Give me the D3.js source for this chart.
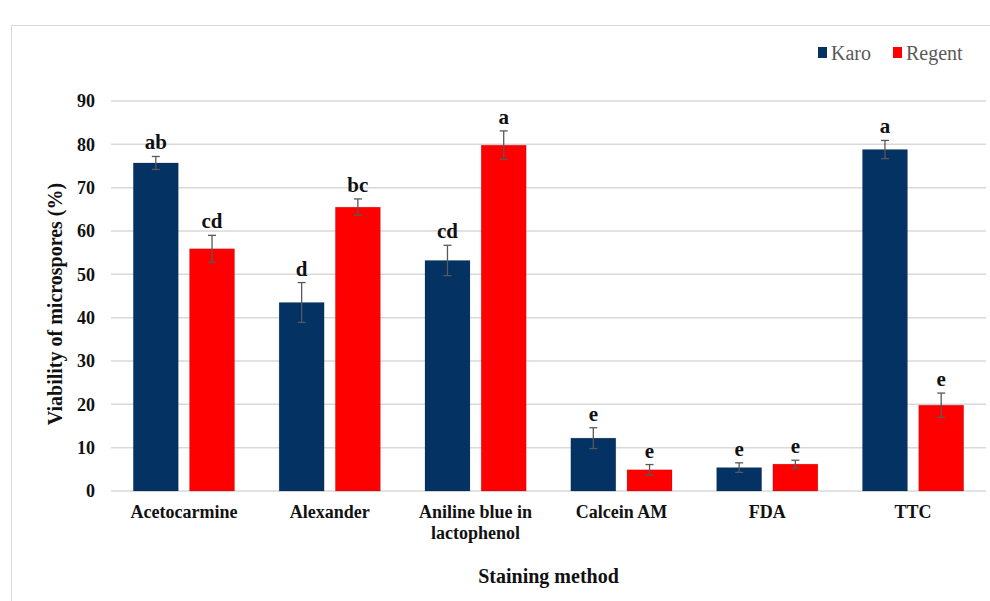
<!DOCTYPE html>
<html>
<head>
<meta charset="utf-8">
<script src="https://cdn.jsdelivr.net/npm/d3@7"></script>
<style>
  body { margin: 0; background: #fff; }
  text { font-family: "Liberation Serif", "Times New Roman", serif; }
</style>
</head>
<body>
<div id="chart"></div>
<script>
// data
var methods = ["Acetocarmine", "Alexander", "Aniline blue in lactophenol", "Calcein AM", "FDA", "TTC"];
var series = ["Karo", "Regent"];
var karoValues = [75.7, 43.5, 53.2, 12.2, 5.4, 78.8];
var regentValues = [55.9, 65.5, 79.8, 4.9, 6.2, 19.8];
var karoErrors = [1.5, 4.6, 3.5, 2.4, 1.1, 2.1];
var regentErrors = [3.1, 1.9, 3.3, 1.2, 0.9, 2.8];
var karoLetters = ["ab", "d", "cd", "e", "e", "a"];
var regentLetters = ["cd", "bc", "a", "e", "e", "e"];
var yTicks = [0, 10, 20, 30, 40, 50, 60, 70, 80, 90];

var colors = { Karo: "#033263", Regent: "#ff0000" };

var svgWidth = 990;
var svgHeight = 601;

var margin = { top: 101, right: 4, bottom: 110, left: 111 };
var width = svgWidth - margin.left - margin.right;
var height = svgHeight - margin.top - margin.bottom;

var svg = d3.select("#chart")
    .append("svg")
    .attr("width", svgWidth)
    .attr("height", svgHeight);

// outer frame of the chart area
svg.append("rect")
    .attr("x", 11.5)
    .attr("y", 25.5)
    .attr("width", 990)
    .attr("height", 600)
    .attr("fill", "none")
    .attr("stroke", "#d9d9d9")
    .attr("stroke-width", 1);

var chartGroup = svg.append("g")
    .attr("transform", `translate(${margin.left}, ${margin.top})`);

// build rows for the bars
var rows = [];
methods.forEach(function(m, i) {
    rows.push({ method: m, series: "Karo", value: karoValues[i], err: karoErrors[i], letter: karoLetters[i] });
    rows.push({ method: m, series: "Regent", value: regentValues[i], err: regentErrors[i], letter: regentLetters[i] });
});

var x0 = d3.scaleBand()
    .domain(methods)
    .range([0, width])
    .paddingInner(0.306)
    .paddingOuter(0.153);

var x1 = d3.scaleBand()
    .domain(series)
    .range([0, x0.bandwidth()])
    .paddingInner(0.2);

var y = d3.scaleLinear()
    .domain([0, 90])
    .range([height, 0]);

// gridlines
chartGroup.append("g")
    .selectAll("line")
    .data(yTicks)
    .enter()
    .append("line")
    .attr("x1", 0)
    .attr("x2", width)
    .attr("y1", d => y(d))
    .attr("y2", d => y(d))
    .attr("stroke", "#d9d9d9")
    .attr("stroke-width", 1.5);

// y tick labels
var leftAxis = d3.axisLeft(y).tickValues(yTicks).tickSize(0).tickPadding(16);
var yAxis = chartGroup.append("g").call(leftAxis);
yAxis.select(".domain").remove();
yAxis.selectAll("text")
    .attr("font-family", "Liberation Serif, serif")
    .attr("font-size", 18)
    .attr("font-weight", "bold")
    .attr("fill", "#111");

// bars
var barGroup = chartGroup.append("g");
barGroup.selectAll("rect")
    .data(rows)
    .enter()
    .append("rect")
    .attr("x", d => x0(d.method) + x1(d.series))
    .attr("y", d => y(d.value))
    .attr("width", x1.bandwidth())
    .attr("height", d => height - y(d.value))
    .attr("fill", d => colors[d.series])
    .attr("stroke", "rgba(0,0,0,0.15)")
    .attr("stroke-width", 0.8);

// error bars
var errGroup = chartGroup.append("g")
    .attr("stroke", "#595959")
    .attr("stroke-width", 1.3);

rows.forEach(function(d) {
    var cx = x0(d.method) + x1(d.series) + x1.bandwidth() / 2;
    var top = y(d.value + d.err);
    var bot = y(d.value - d.err);
    errGroup.append("line").attr("x1", cx).attr("x2", cx).attr("y1", top).attr("y2", bot);
    errGroup.append("line").attr("x1", cx - 4).attr("x2", cx + 4).attr("y1", top).attr("y2", top);
    errGroup.append("line").attr("x1", cx - 4).attr("x2", cx + 4).attr("y1", bot).attr("y2", bot);
});

// significance letters
chartGroup.append("g")
    .selectAll("text")
    .data(rows)
    .enter()
    .append("text")
    .attr("x", d => x0(d.method) + x1(d.series) + x1.bandwidth() / 2)
    .attr("y", d => y(d.value + d.err) - 7)
    .attr("text-anchor", "middle")
    .attr("font-size", 21)
    .attr("font-weight", "bold")
    .attr("fill", "#111")
    .text(d => d.letter);

// category labels
var bottomAxis = d3.axisBottom(x0).tickSize(0).tickPadding(14);
var xAxis = chartGroup.append("g")
    .attr("transform", `translate(0, ${height})`)
    .call(bottomAxis);
xAxis.select(".domain").remove();
xAxis.selectAll("text")
    .attr("font-family", "Liberation Serif, serif")
    .attr("font-size", 18)
    .attr("font-weight", "bold")
    .attr("fill", "#111")
    .each(function(d) {
        var t = d3.select(this);
        if (d === "Aniline blue in lactophenol") {
            t.text(null);
            t.append("tspan").attr("x", 0).attr("dy", "0.71em").text("Aniline blue in");
            t.append("tspan").attr("x", 0).attr("dy", "1.2em").text("lactophenol");
            t.attr("dy", null);
        }
    });

// axis titles
chartGroup.append("text")
    .attr("transform", `translate(${-49}, ${height / 2 + 8}) rotate(-90)`)
    .attr("text-anchor", "middle")
    .attr("font-size", 20)
    .attr("font-weight", "bold")
    .attr("fill", "#111")
    .text("Viability of microspores (%)");

chartGroup.append("text")
    .attr("x", width / 2)
    .attr("y", height + 92)
    .attr("text-anchor", "middle")
    .attr("font-size", 20)
    .attr("font-weight", "bold")
    .attr("fill", "#111")
    .text("Staining method");

// legend
var legend = svg.append("g");
var legendX = [818, 893];
series.forEach(function(s, i) {
    legend.append("rect")
        .attr("x", legendX[i])
        .attr("y", 47)
        .attr("width", 9)
        .attr("height", 11)
        .attr("fill", colors[s]);
    legend.append("text")
        .attr("x", legendX[i] + 13)
        .attr("y", 60)
        .attr("font-size", 20)
        .attr("fill", "#595959")
        .text(s);
});
</script>
</body>
</html>
